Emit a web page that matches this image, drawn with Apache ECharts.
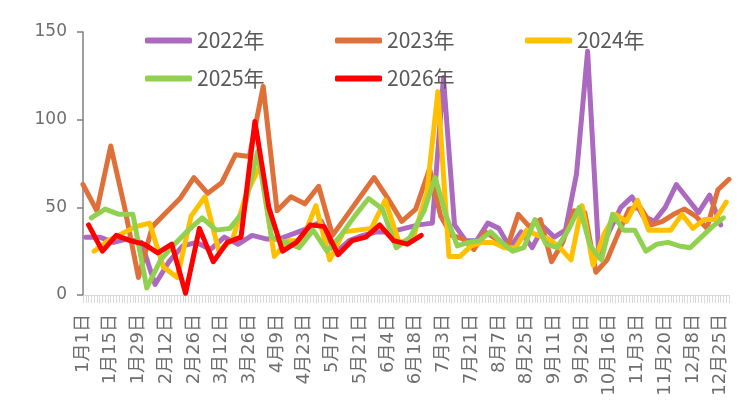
<!DOCTYPE html>
<html>
<head>
<meta charset="utf-8">
<script src="https://cdn.jsdelivr.net/npm/echarts@6/dist/echarts.min.js"></script>
<style>
  html, body { margin: 0; padding: 0; background: #fff; }
  #chart { width: 738px; height: 405px; }
</style>
</head>
<body>
<div id="chart"></div>
<script>
// weekly values, one per Sunday of each year
const v2022 = [33, 33, 30, 32, 30, 6, 19, 28, 30, 26, 33, 29, 34, 32, 32, 35, 38, 42, 24, 31, 34, 36, 36, 38, 40,
  41, 124, 40, 31, 31, 41, 38, 27, 36, 27, 39, 33, 37, 69, 139, 24, 37, 50, 56, 45, 42, 50, 63, 55, 47, 57, 40];
const v2023 = [63, 48, 85, 50, 10, 39, 47, 55, 67, 58, 64, 80, 79, 119, 48, 56, 52, 62, 34, 45, 56, 67, 55, 42, 49, 72,
  45, 34, 32, 26, 36, 32, 27, 46, 39, 43, 19, 30, 48, 47, 13, 20, 35, 49, 50, 40, 42, 46, 49, 45, 38, 60, 66];
const v2024 = [25, 31, 35, 39, 41, 16, 10, 45, 56, 25, 32, 58, 74, 22, 31, 31, 51, 20, 36, 37, 38, 54, 30, 32, 58,
  116, 22, 22, 28, 30, 30, 27, 27, 37, 34, 32, 27, 20, 51, 17, 35, 46, 42, 54, 37, 37, 37, 46, 38, 43, 43, 53];
const v2025 = [44, 49, 46, 46, 4, 20, 29, 37, 44, 37, 38, 48, 82, 33, 30, 27, 37, 25, 34, 45, 55, 49, 27, 33, 48,
  67, 45, 28, 30, 31, 36, 30, 25, 27, 43, 29, 27, 37, 50, 28, 20, 46, 37, 37, 25, 29, 30, 28, 27, 33, 39, 44];
const v2026 = [40, 25, 34, 31, 29, 24, 29, 1, 38, 19, 30, 33, 99, 50, 25, 30, 40, 39, 23, 31, 33, 40, 31, 29, 34];

const seriesNames = ['2022年', '2023年', '2024年', '2025年', '2026年'];
const years = [2022, 2023, 2024, 2025, 2026];
const colors = ['#AB69BF', '#E0703A', '#FFC000', '#92D050', '#FF0000'];
const tickLabels = ['1月1日', '1月15日', '1月29日', '2月12日', '2月26日', '3月12日', '3月26日', '4月9日',
  '4月23日', '5月7日', '5月21日', '6月4日', '6月18日', '7月3日', '7月21日', '8月7日', '8月25日', '9月11日',
  '9月29日', '10月16日', '11月3日', '11月20日', '12月8日', '12月25日'];
const yTicks = [0, 50, 100, 150];

const allValues = [v2022, v2023, v2024, v2025, v2026];

// Sunday dates of a year, as month/day
function sundays(year, n) {
  const d = new Date(year, 0, 1);
  while (d.getDay() !== 0) d.setDate(d.getDate() + 1);
  const out = [];
  for (let i = 0; i < n; i++) {
    out.push({ m: d.getMonth() + 1, d: d.getDate() });
    d.setDate(d.getDate() + 7);
  }
  return out;
}

const dated = years.map((y, i) => sundays(y, allValues[i].length));
const keyMap = {};
dated.forEach(list => list.forEach(o => { keyMap[o.m * 100 + o.d] = o; }));
const categories = Object.keys(keyMap).map(Number).sort((a, b) => a - b)
  .map(k => keyMap[k].m + '月' + keyMap[k].d + '日');

const chart = echarts.init(document.getElementById('chart'));
const axisFont = '"DejaVu Sans", "Noto Sans CJK SC", sans-serif';
const legendFont = '"Liberation Sans Narrow", "Noto Sans CJK SC", sans-serif';

function legendFor(names, left) {
  return {
    orient: 'vertical',
    left: left,
    top: 25,
    itemGap: 17,
    itemWidth: 47,
    itemHeight: 6,
    icon: 'roundRect',
    data: names,
    textStyle: { fontSize: 21, color: '#595959', fontFamily: legendFont }
  };
}

chart.setOption({
  animation: false,
  color: colors,
  legend: [
    legendFor(['2022年', '2025年'], 140),
    legendFor(['2023年', '2026年'], 330),
    legendFor(['2024年'], 520)
  ],
  grid: { left: 83, right: 9, top: 32, bottom: 110 },
  xAxis: {
    type: 'category',
    boundaryGap: false,
    data: categories,
    axisLine: { lineStyle: { color: '#D9D9D9', width: 1 } },
    axisTick: { interval: 0, length: 8, lineStyle: { color: '#D9D9D9' } },
    axisLabel: {
      interval: (idx, name) => tickLabels.indexOf(name) >= 0,
      rotate: 90,
      fontSize: 18,
      color: '#6E6E6E',
      margin: 19,
      fontFamily: axisFont
    }
  },
  yAxis: {
    type: 'value',
    min: yTicks[0],
    max: yTicks[yTicks.length - 1],
    interval: 50,
    axisLine: { show: true, lineStyle: { color: '#7F7F7F', width: 1.5 } },
    axisTick: { show: true, length: 6, lineStyle: { color: '#7F7F7F', width: 1.5 } },
    splitLine: { show: false },
    axisLabel: { fontSize: 17, color: '#6E6E6E', margin: 16, fontFamily: axisFont }
  },
  series: seriesNames.map((name, i) => ({
    name: name,
    type: 'line',
    symbol: 'none',
    connectNulls: true,
    lineStyle: { width: 5, cap: 'round', join: 'round' },
    data: dated[i].map((o, j) => [o.m + '月' + o.d + '日', allValues[i][j]])
  }))
});
</script>
</body>
</html>
